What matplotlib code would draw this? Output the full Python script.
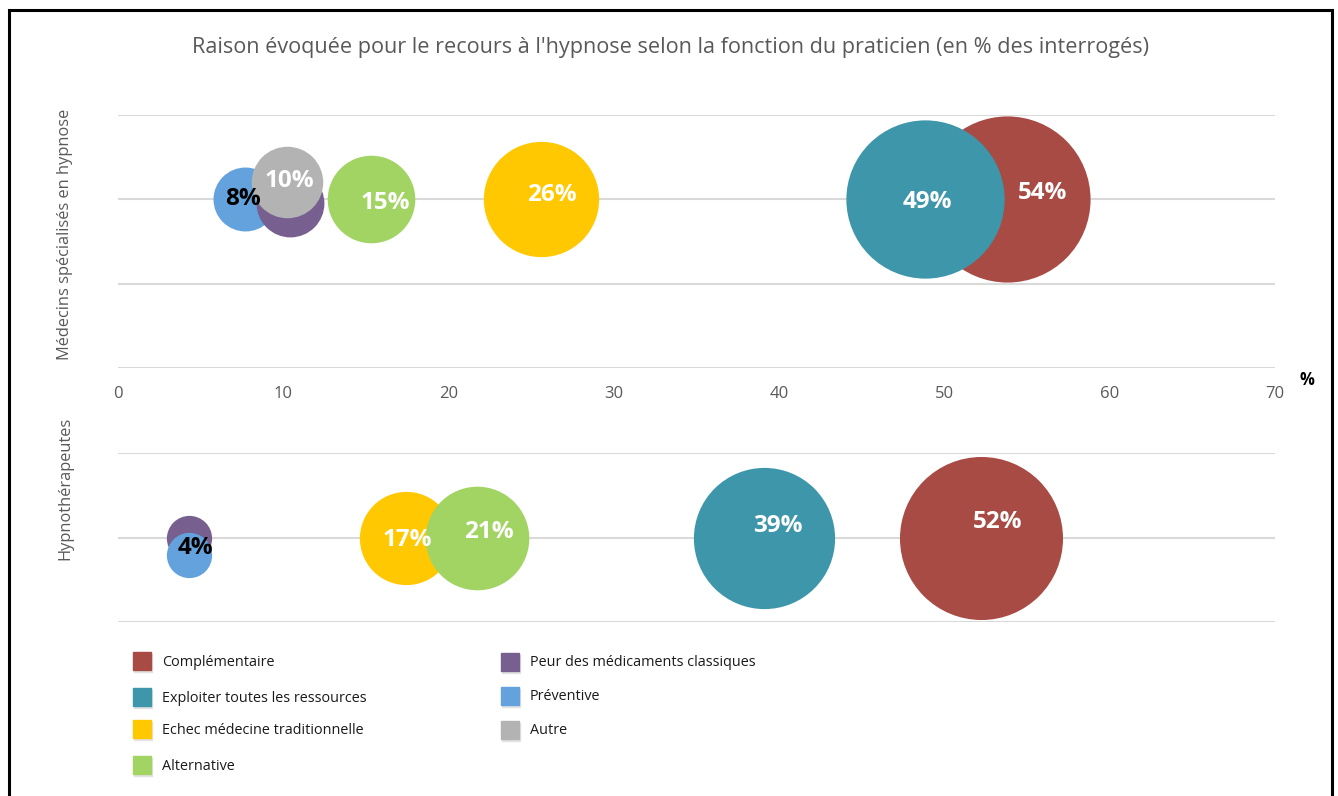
import matplotlib
matplotlib.use('Agg')
import matplotlib.pyplot as plt
from matplotlib.patches import Rectangle

plt.rcParams['font.family'] = ['Open Sans', 'DejaVu Sans']

# series names and colours
names = ['Complémentaire', 'Exploiter toutes les ressources', 'Echec médecine traditionnelle',
         'Alternative', 'Peur des médicaments classiques', 'Préventive', 'Autre']
colors = ['#A84B45', '#3E96AB', '#FFC800', '#A2D463', '#77608F', '#63A2DD', '#B3B3B3']

# Médecins spécialisés en hypnose : x (%), y (position), bubble size (%)
med_x = [53.8, 48.8, 25.6, 15.3, 10.4, 7.7, 10.2]
med_y = [2, 2, 2, 2, 1.96, 2, 2.2]
med_v = [54, 49, 26, 15, 9, 8, 10]
med_lab = ['54%', '49%', '26%', '15%', '', '8%', '10%']

# Hypnothérapeutes (no "Autre")
hyp_x = [52.2, 39.1, 17.4, 21.7, 4.3, 4.3]
hyp_y = [1, 1, 1, 1, 1, 0.79]
hyp_v = [52, 39, 17, 21, 4, 4]
hyp_lab = ['52%', '39%', '17%', '21%', '', '4%']

# label offsets in pixels and draw order
med_off = [(35, 6), (3, -3), (11, 4), (14, -4), (0, 0), (-2, 0), (3, 1)]
med_z = [1, 2, 3, 4, 6, 5, 7]
hyp_off = [(17, 15), (14, 11), (2, -3), (12, 5), (0, 0), (6, 7)]
hyp_z = [1, 2, 3, 4, 5, 6]
dark_labels = ['8%', '4%']

W, H = 1338, 796
fig = plt.figure(figsize=(W / 100, H / 100), dpi=100)
grey = '#595959'
gridc = '#D9D9D9'
S = 265  # points^2 per %


def px(x0, y0, x1, y1):
    return [x0 / W, 1 - y1 / H, (x1 - x0) / W, (y1 - y0) / H]


def panel(ax, xs, ys, vs, labs, offs, zs, ytop):
    ax.set_xlim(0, 70)
    ax.set_ylim(0, ytop)
    ax.set_yticks(range(ytop + 1))
    ax.set_yticklabels([])
    ax.grid(axis='y', color=gridc, linewidth=1.5)
    ax.set_axisbelow(True)
    for s in ax.spines.values():
        s.set_visible(False)
    ax.tick_params(length=0)
    for i in range(len(xs)):
        ax.scatter(xs[i], ys[i], s=vs[i] * S, color=colors[i], zorder=zs[i] + 2,
                   clip_on=False, linewidths=0)
        if labs[i]:
            c = 'black' if labs[i] in dark_labels else 'white'
            ax.annotate(labs[i], (xs[i], ys[i]), xytext=offs[i], textcoords='offset pixels',
                        ha='center', va='center', fontsize=17.5, fontweight='bold',
                        color=c, zorder=20)


ax1 = fig.add_axes(px(118, 115, 1275, 368))
panel(ax1, med_x, med_y, med_v, med_lab, med_off, med_z, 3)
ax1.set_xticks(range(0, 71, 10))
ax1.tick_params(axis='x', labelsize=12, labelcolor=grey, pad=13)

ax2 = fig.add_axes(px(118, 453, 1275, 622))
panel(ax2, hyp_x, hyp_y, hyp_v, hyp_lab, hyp_off, hyp_z, 2)
ax2.set_xticks([])

fig.text(1307 / W, 1 - 380 / H, '%', fontsize=12, fontweight='bold', ha='center', va='center')

fig.text(670 / W, 1 - 47 / H,
         "Raison évoquée pour le recours à l'hypnose selon la fonction du praticien (en % des interrogés)",
         fontsize=15.6, color=grey, ha='center', va='center')

fig.text(65 / W, 1 - 234 / H, 'Médecins spécialisés en hypnose', rotation=90,
         fontsize=11.8, color=grey, ha='center', va='center')
fig.text(65 / W, 1 - 488 / H, 'Hypnothérapeutes', rotation=90,
         fontsize=11.8, color=grey, ha='center', va='center')

# legend
leg_pos = [(133, 661), (133, 697), (133, 729), (133, 765), (501, 662), (501, 696), (501, 730)]
for i, (lx, ly) in enumerate(leg_pos):
    fig.patches.append(Rectangle(((lx + 1) / W, 1 - (ly + 11) / H), 18 / W, 18 / H,
                                 transform=fig.transFigure, color='#E3E3E3', zorder=1))
    fig.patches.append(Rectangle((lx / W, 1 - (ly + 9) / H), 18 / W, 18 / H,
                                 transform=fig.transFigure, color=colors[i], zorder=2))
    fig.text((lx + 29) / W, 1 - (ly + 1) / H, names[i], fontsize=10.4, color='#1a1a1a',
             ha='left', va='center')

# frame
fig.patches.append(Rectangle((8.5 / W, -0.05), (1332 - 8.5) / W, 1.05 - 10 / H,
                             transform=fig.transFigure, fill=False, edgecolor='black',
                             linewidth=2.2, zorder=30))

fig.savefig('out.png', dpi=100)
